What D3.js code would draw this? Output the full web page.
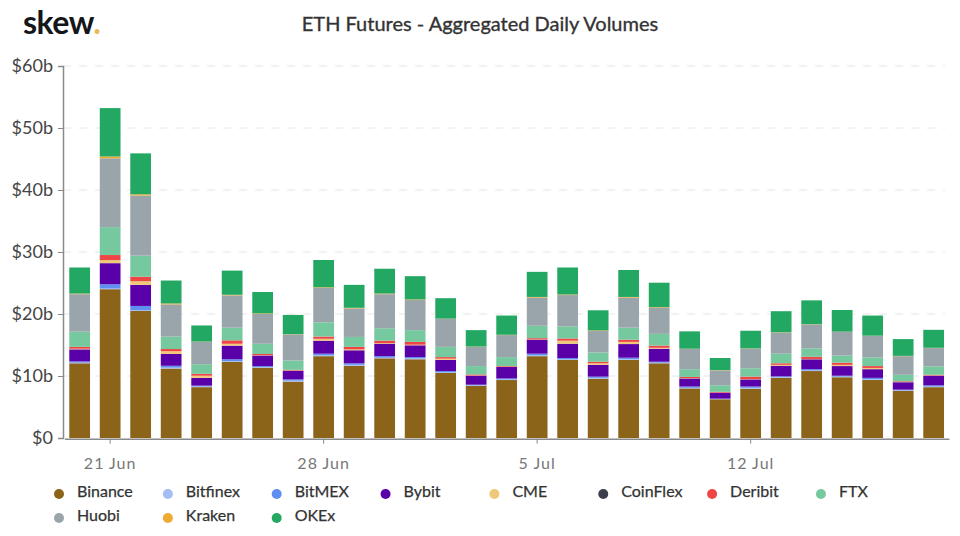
<!DOCTYPE html>
<html>
<head>
<meta charset="utf-8">
<script src="https://cdn.jsdelivr.net/npm/d3@7"></script>
<style>
  html, body { margin: 0; background: #fff; }
  text { font-family: Lato, sans-serif; }
</style>
</head>
<body>
<div id="container"></div>
<script>
const width = 960;
const height = 536;

const days = ["20 Jun","21 Jun","22 Jun","23 Jun","24 Jun","25 Jun","26 Jun","27 Jun","28 Jun","29 Jun","30 Jun",
  "1 Jul","2 Jul","3 Jul","4 Jul","5 Jul","6 Jul","7 Jul","8 Jul","9 Jul","10 Jul","11 Jul","12 Jul","13 Jul",
  "14 Jul","15 Jul","16 Jul","17 Jul","18 Jul"];
const xTickLabels = ["21 Jun","28 Jun","5 Jul","12 Jul"];
const yTickValues = [0,10,20,30,40,50,60];

const exchanges = ["Binance","Bitfinex","BitMEX","Bybit","CME","CoinFlex","Deribit","FTX","Huobi","Kraken","OKEx"];
const colors = ["#8b6419","#a3bdf5","#5f8ff0","#5a00a8","#efc978","#3a3f4b","#f04545","#76c89e","#9aa4ab","#eeaa33","#22a862"];

// $ billions
const binance = [12.05,24.0,20.5,11.2,8.2,12.3,11.35,9.1,13.2,11.65,12.85,12.7,10.5,8.4,9.35,13.2,12.6,9.55,12.6,12.05,8.0,6.25,7.95,9.7,10.8,9.8,9.35,7.6,8.2];
const bitfinex = [.1,.1,.1,.15,.1,.1,.1,.15,.15,.15,.1,.15,.1,.1,.1,.15,.1,.15,.15,.1,.1,.05,.15,.1,.1,.1,.15,.1,.1];
const bitmex = [.2,.7,.7,.3,.15,.3,.15,.2,.25,.25,.25,.2,.2,.1,.15,.25,.2,.2,.2,.15,.2,.05,.2,.15,.2,.15,.2,.1,.2];
const bybit = [1.95,3.4,3.4,1.9,1.25,2.2,1.7,1.4,2.1,2.1,2.0,1.9,1.8,1.45,1.85,2.25,2.3,1.9,2.2,2.1,1.3,.95,1.15,1.7,1.6,1.55,1.4,1.2,1.55];
const cme = [.1,.5,.6,.45,.35,.3,.05,.05,.3,.15,.1,.1,.2,.05,.05,.05,.5,.25,.35,.15,.05,.03,.05,.15,.05,.2,.2,.05,.05];
const coinflex = [0,.01,.01,0,0,0,0,0,.01,0,0,0,0,0,0,0,0,0,0,0,0,0,0,0,0,0,0,0,0];
const deribit = [.3,.8,.7,.35,.3,.55,.2,.1,.35,.4,.4,.45,.25,.15,.1,.2,.35,.25,.35,.35,.2,.12,.4,.25,.35,.35,.3,.1,.1];
const ftx = [2.45,4.5,3.4,2.0,1.55,2.05,1.65,1.5,2.3,1.6,2.0,1.9,1.65,1.35,1.45,2.0,1.95,1.5,1.95,1.9,1.25,1.05,1.35,1.55,1.35,1.15,1.4,1.05,1.35];
const huobi = [6.05,11.1,9.7,5.2,3.6,5.2,4.8,4.2,5.55,4.6,5.5,4.85,4.5,3.1,3.55,4.55,5.05,3.45,4.85,4.2,3.25,2.4,3.15,3.4,3.85,3.8,3.45,3.0,2.95];
const kraken = [.1,.3,.2,.15,.05,.1,.1,.05,.1,.1,.1,.1,.05,.05,.05,.1,.1,.1,.1,.1,.05,.05,.05,.05,.05,.05,.05,.05,.05];
const okex = [4.2,7.8,6.6,3.7,2.6,3.9,3.45,3.1,4.4,3.7,4.0,3.75,3.3,2.65,3.1,4.05,4.35,3.25,4.35,3.95,2.8,1.95,2.85,3.4,3.85,3.5,3.25,2.7,2.9];
const volumes = [binance,bitfinex,bitmex,bybit,cme,coinflex,deribit,ftx,huobi,kraken,okex];

const rows = days.map((day, i) => {
  const row = { day: day };
  exchanges.forEach((name, k) => { row[name] = volumes[k][i]; });
  return row;
});

const svg = d3.select("#container").append("svg")
  .attr("width", width)
  .attr("height", height)
  .style("display", "block");

//-----------------------------SCALES---------------------------//
const xScale = d3.scaleBand().domain(days).range([64.4, 948.9]).paddingInner(0.32).paddingOuter(0.16);
const yScale = d3.scaleLinear().domain([0, 60]).range([438, 66]);
const colorScale = d3.scaleOrdinal().domain(exchanges).range(colors);

//-----------------------------GRID-----------------------------//
svg.append("g")
  .selectAll("line")
  .data(yTickValues.slice(1))
  .join("line")
  .attr("x1", 63)
  .attr("x2", 945)
  .attr("y1", d => yScale(d))
  .attr("y2", d => yScale(d))
  .attr("stroke", "#e6e6e6")
  .attr("stroke-dasharray", "8,8");

//-----------------------------BARS-----------------------------//
const series = d3.stack().keys(exchanges)(rows);
svg.append("g")
  .selectAll("g")
  .data(series)
  .join("g")
  .attr("fill", d => colorScale(d.key))
  .selectAll("rect")
  .data(d => d)
  .join("rect")
  .attr("x", d => xScale(d.data.day))
  .attr("width", xScale.bandwidth())
  .attr("y", d => yScale(d[1]))
  .attr("height", d => yScale(d[0]) - yScale(d[1]));

//-----------------------------AXES-----------------------------//
const yAxis = d3.axisLeft(yScale)
  .tickValues(yTickValues)
  .tickSize(5)
  .tickPadding(5)
  .tickFormat(d => "$" + d + (d === 0 ? "" : "b"));
const yG = svg.append("g").attr("transform", "translate(63,0)").call(yAxis);
yG.select(".domain").attr("stroke", "#8a8a8a").attr("stroke-width", 1.5);
yG.selectAll(".tick line").attr("stroke", "#8a8a8a");
yG.selectAll("text").attr("fill", "#444").style("font-size", "18px").style("font-family", "Lato, sans-serif");

const xAxis = d3.axisBottom(xScale)
  .tickValues(xTickLabels)
  .tickSize(5)
  .tickPadding(14)
  .tickSizeOuter(0);
const xG = svg.append("g").attr("transform", "translate(0,438.7)").call(xAxis);
xG.select(".domain").attr("stroke", "#8a8a8a").attr("stroke-width", 1.5);
xG.selectAll(".tick line").attr("stroke", "#8a8a8a");
xG.selectAll("text").attr("fill", "#777").style("font-size", "16px").style("letter-spacing", "1px").style("font-family", "Lato, sans-serif");

//-----------------------------TITLE----------------------------//
svg.append("text")
  .attr("x", 480)
  .attr("y", 31)
  .attr("text-anchor", "middle")
  .attr("fill", "#333")
  .attr("stroke", "#333")
  .attr("stroke-width", 0.35)
  .style("font-size", "20px")
  .text("ETH Futures - Aggregated Daily Volumes");

const logo = svg.append("text")
  .attr("x", 23)
  .attr("y", 34)
  .attr("fill", "#14161a")
  .style("font-size", "32px")
  .style("font-weight", 700)
  .style("letter-spacing", "-0.5px")
  .text("skew");
logo.append("tspan").attr("fill", "#e8b95c").text(".");

//-----------------------------LEGEND---------------------------//
const legend = svg.append("g")
  .selectAll("g")
  .data(exchanges)
  .join("g")
  .attr("transform", (d, i) => "translate(" + (59 + 108.85 * (i % 8)) + "," + (494 + 24 * Math.floor(i / 8)) + ")");
legend.append("circle").attr("r", 5).attr("fill", d => colorScale(d));
legend.append("text")
  .attr("x", 18)
  .attr("y", 3)
  .attr("fill", "#333")
  .attr("stroke", "#333")
  .attr("stroke-width", 0.25)
  .style("font-size", "16px")
  .text(d => d);
</script>
</body>
</html>
